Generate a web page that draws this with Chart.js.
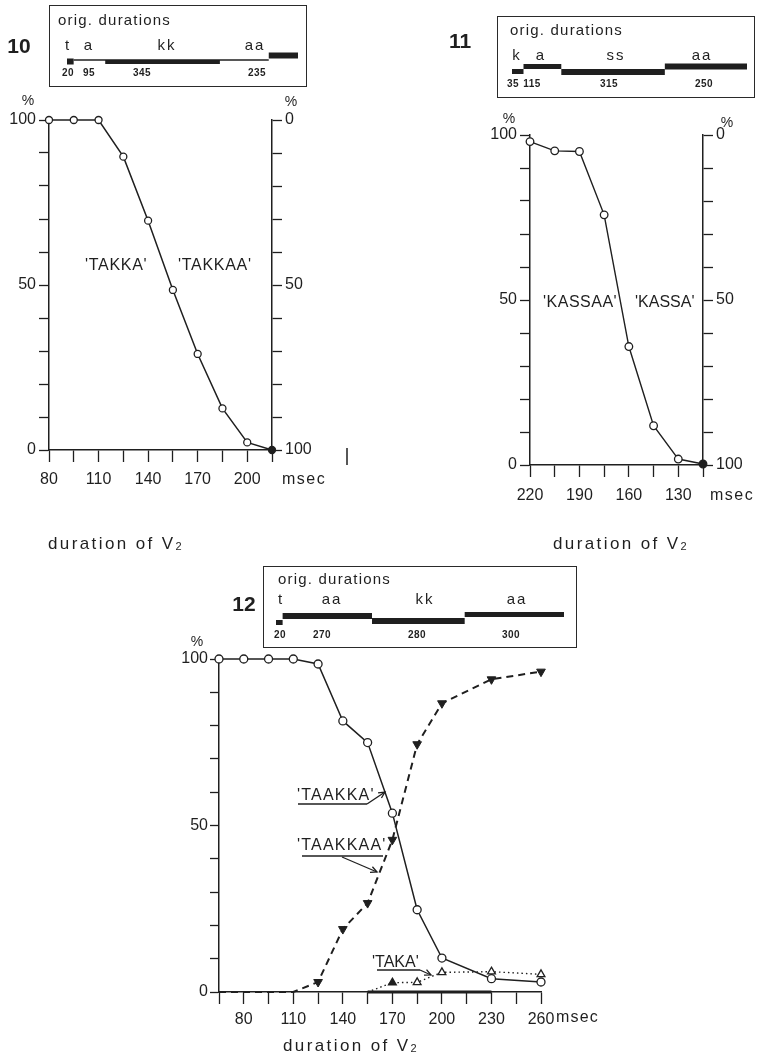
<!DOCTYPE html>
<html><head><meta charset="utf-8">
<script src="https://cdn.jsdelivr.net/npm/chart.js@4.4.1/dist/chart.umd.min.js"></script>
<style>
html,body{margin:0;padding:0;background:#fff;}
body{width:760px;height:1058px;position:relative;overflow:hidden;font-family:"Liberation Sans",Arial,sans-serif;color:#1f1f1f;}
.abs{position:absolute;white-space:nowrap;line-height:1;}
.box{position:absolute;border:1.5px solid #2a2a2a;box-sizing:border-box;}
canvas{position:absolute;display:block;}
sub{font-size:11px;vertical-align:-1px;}
</style></head><body>
<div class="box" style="left:49px;top:5px;width:258px;height:82px"></div>
<div class="box" style="left:497px;top:16px;width:258px;height:82px"></div>
<div class="box" style="left:263px;top:566px;width:314px;height:82px"></div>

<canvas id="c10" width="360" height="410" style="left:0;top:90px"></canvas>
<canvas id="c11" width="280" height="410" style="left:480px;top:100px"></canvas>
<canvas id="c12" width="420" height="410" style="left:170px;top:630px"></canvas>

<canvas id="i10" width="231" height="20" style="left:67px;top:50px"></canvas>
<canvas id="i11" width="235" height="20" style="left:512px;top:60px"></canvas>
<canvas id="i12" width="288" height="25" style="left:276px;top:605px"></canvas>

<svg id="arrows" class="abs" style="left:0;top:0" width="760" height="1058"></svg>

<script>
// ---------------- DATA ----------------
// Fig. 10 : % 'TAKKA' (left axis) vs duration of V2
const dur10 = [80, 95, 110, 125, 140, 155, 170, 185, 200, 215];
const takkaPct = [100, 100, 100, 88.9, 69.5, 48.5, 29.1, 12.6, 2.3, 0];
const xTickLabels10 = [80, 110, 140, 170, 200];

// Fig. 11 : % 'KASSAA' vs duration of V2 (decreasing axis)
const dur11 = [220, 205, 190, 175, 160, 145, 130, 115];
const kassaaPct = [98, 95.2, 95, 75.8, 35.9, 11.9, 1.8, 0.3];
const xTickLabels11 = [220, 190, 160, 130];

// Fig. 12 : three response categories
const dur12 = [65, 80, 95, 110, 125, 140, 155, 170, 185, 200, 230, 260];
const taakkaPct  = [100, 100, 100, 100, 98.5, 81.4, 74.9, 53.7, 24.7, 10.2, 4, 3];
const taakkaaPct = [0, 0, 0, 0, 3.0, 18.9, 26.7, 45.7, 74.4, 86.7, 93.9, 96.2];
const takaPct    = [null, null, null, null, null, null, 0, 2.8, 2.9, 5.9, 6.1, 5.3];
const baselinePct = [null, null, null, null, null, null, 0, 0, 0, 0, 0, null];
const xTickLabels12 = [80, 110, 140, 170, 200, 230, 260];

const yTickLabels = [0, 50, 100];

// original durations (ms) shown in the insets
const orig10Labels = ['t', 'a', 'kk', 'aa'];
const orig10Ms = [20, 95, 345, 235];
const orig11Labels = ['k', 'a', 'ss', 'aa'];
const orig11Ms = [35, 115, 315, 250];
const orig12Labels = ['t', 'aa', 'kk', 'aa'];
const orig12Ms = [20, 270, 280, 300];

// inset schematic segments: start / end (ms) and intensity level
const seg10Start = [0, 20, 115, 607];
const seg10End   = [20, 607, 460, 695];
const seg10Level = [8.5, 10, 8, 14.5];
const seg11Level = [8.5, 13.5, 8, 13.5];
const seg12Level = [7.5, 14, 9, 15.5];

// ---------------- STYLE ----------------
const INK = '#1f1f1f';
Chart.defaults.font.family = "'Liberation Sans', Arial, sans-serif";
Chart.defaults.color = INK;

function yScale(position, reverse, width, tickLen, pad) {
  return {
    type: 'linear', position, min: 0, max: 100, reverse,
    ticks: { stepSize: 10, autoSkip: false, padding: pad, font: { size: 16 }, color: INK,
      callback: v => yTickLabels.includes(v) ? String(v) : '' },
    grid: { drawOnChartArea: false, drawTicks: true, tickLength: tickLen, tickColor: INK, tickWidth: 1.3, color: INK },
    border: { display: true, color: INK, width: 1.5 },
    afterFit: s => { s.width = width; }
  };
}
function xScale(min, max, reverse, tickVals, labels, pad) {
  return {
    type: 'linear', min, max, reverse,
    afterBuildTicks: s => { s.ticks = tickVals.map(v => ({ value: v })); },
    ticks: { autoSkip: false, maxRotation: 0, padding: pad, font: { size: 16 }, color: INK,
      callback: v => labels.includes(v) ? String(v) : '' },
    grid: { drawOnChartArea: false, drawTicks: true, tickLength: 12, tickColor: INK, tickWidth: 1.3, color: INK },
    border: { display: true, color: INK, width: 1.5 },
    afterFit: s => { s.height = 40; }
  };
}
const base = {
  animation: false, responsive: false, events: [],
  plugins: { legend: { display: false }, tooltip: { enabled: false } }
};
const pts = (xs, ys) => xs.map((x, i) => ({ x, y: ys[i] }));

// Fig 10
new Chart(document.getElementById('c10'), {
  type: 'line',
  data: { datasets: [{
    data: pts(dur10, takkaPct), borderColor: INK, borderWidth: 1.5, clip: false,
    pointRadius: 3.5, pointBorderColor: INK, pointBorderWidth: 1.3,
    pointBackgroundColor: c => c.dataIndex === dur10.length - 1 ? INK : '#fff'
  }]},
  options: Object.assign({}, base, {
    layout: { padding: { left: 0, top: 30, right: 38, bottom: 10 } },
    scales: {
      x: xScale(80, 215, false, dur10, xTickLabels10, 8),
      y: yScale('left', false, 49, 10, 3),
      y2: yScale('right', true, 50, 10, 3)
    }
  })
});

// Fig 11
new Chart(document.getElementById('c11'), {
  type: 'line',
  data: { datasets: [{
    data: pts(dur11, kassaaPct), borderColor: INK, borderWidth: 1.4, clip: false,
    pointRadius: 3.8, pointBorderColor: INK, pointBorderWidth: 1.3,
    pointBackgroundColor: c => c.dataIndex === dur11.length - 1 ? INK : '#fff'
  }]},
  options: Object.assign({}, base, {
    layout: { padding: { left: 0, top: 35, right: 12, bottom: 5 } },
    scales: {
      x: xScale(115, 220, true, dur11, xTickLabels11, 9),
      y: yScale('left', false, 50, 10, 3),
      y2: yScale('right', true, 45, 10, 3)
    }
  })
});

// Fig 12
const xTicks12 = [];
for (let v = 65; v <= 260; v += 15) xTicks12.push(v);
new Chart(document.getElementById('c12'), {
  type: 'line',
  data: { datasets: [
    { // 'TAAKKA'
      data: pts(dur12, taakkaPct), borderColor: INK, borderWidth: 1.5, clip: false,
      pointRadius: 4, pointBorderColor: INK, pointBorderWidth: 1.3, pointBackgroundColor: '#fff'
    },
    { // 'TAAKKAA'
      data: pts(dur12, taakkaaPct), borderColor: INK, borderWidth: 2, borderDash: [7, 5], clip: false,
      pointStyle: 'triangle', pointRotation: 180,
      pointRadius: c => (c.raw && c.raw.y > 0) ? 5 : 0,
      pointBorderColor: INK, pointBackgroundColor: INK, pointBorderWidth: 1
    },
    { // 'TAKA'
      data: pts(dur12, takaPct), borderColor: INK, borderWidth: 1.4, borderDash: [1.5, 3], clip: false,
      pointStyle: 'triangle',
      pointRadius: c => (c.raw && c.raw.y > 0) ? 4.5 : 0,
      pointBorderColor: INK, pointBorderWidth: 1.3,
      pointBackgroundColor: c => c.dataIndex === 7 ? INK : '#fff'
    },
    { // zero responses drawn on the baseline
      data: pts(dur12, baselinePct), borderColor: INK, borderWidth: 3, pointRadius: 0, clip: false
    }
  ]},
  options: Object.assign({}, base, {
    layout: { padding: { left: 0, top: 29, right: 49, bottom: 8 } },
    scales: {
      x: xScale(65, 260, false, xTicks12, xTickLabels12, 6),
      y: yScale('left', false, 49, 9, 2)
    }
  })
});

// ---------- insets (orig. durations) ----------
function inset(id, starts, ends, levels, widths, total, h) {
  new Chart(document.getElementById(id), {
    type: 'line',
    data: { datasets: starts.map((s, i) => ({
      data: [{ x: s, y: levels[i] }, { x: ends[i], y: levels[i] }],
      borderColor: INK, borderWidth: widths[i], borderCapStyle: 'butt', pointRadius: 0, clip: false
    }))},
    options: Object.assign({}, base, {
      layout: { padding: 0 },
      scales: {
        x: { type: 'linear', min: 0, max: total, display: false },
        y: { type: 'linear', min: 0, max: h, display: false }
      }
    })
  });
}
function cum(ms) { const s = [], e = []; let t = 0; ms.forEach(m => { s.push(t); t += m; e.push(t); }); return [s, e]; }
inset('i10', seg10Start, seg10End, seg10Level, [6, 1.5, 4, 6], orig10Ms.reduce((a, b) => a + b, 0), 20);
const [s11, e11] = cum(orig11Ms);
inset('i11', s11, e11, seg11Level, [5, 5, 6, 6], e11[e11.length - 1], 20);
const [s12, e12] = cum(orig12Ms);
inset('i12', s12, e12, seg12Level, [5, 6, 6, 5], e12[e12.length - 1], 25);

// ---------- text ----------
function label(html, x, y, o = {}) {
  const d = document.createElement('div');
  d.className = 'abs';
  d.innerHTML = html;
  d.style.left = x + 'px'; d.style.top = y + 'px';
  d.style.fontSize = (o.size || 16) + 'px';
  if (o.bold) d.style.fontWeight = 'bold';
  if (o.ls) d.style.letterSpacing = o.ls + 'px';
  if (o.color) d.style.color = o.color;
  const tx = o.align === 'center' ? '-50%' : (o.align === 'right' ? '-100%' : '0');
  d.style.transform = `translate(${tx},-50%)`;
  document.body.appendChild(d);
}
const V2 = 'duration of V<sub>2</sub>';
// Fig 10
label('10', 19, 45, { size: 21, bold: true, align: 'center' });
label('orig. durations', 58, 19, { size: 15, ls: 1.2 });
[68, 89, 167, 255].forEach((x, i) => label(orig10Labels[i], x, 44, { size: 15, ls: 2, align: 'center' }));
[68, 89, 142, 257].forEach((x, i) => label(String(orig10Ms[i]), x, 73, { size: 10, bold: true, align: 'center', ls: 0.5 }));
label('%', 28, 100, { size: 14, align: 'center' });
label('%', 291, 101, { size: 14, align: 'center' });
label("'TAKKA'", 85, 265, { size: 16, ls: 0.7 });
label("'TAKKAA'", 178, 265, { size: 16, ls: 0.7 });
label('msec', 282, 479, { size: 16, ls: 1.5 });
label(V2, 48, 543, { size: 17, ls: 2.4 });
// Fig 11
label('11', 460, 40, { size: 21, bold: true, align: 'center' });
label('orig. durations', 510, 29, { size: 15, ls: 1.2 });
[517, 541, 616, 702].forEach((x, i) => label(orig11Labels[i], x, 54, { size: 15, ls: 2, align: 'center' }));
[513, 532, 609, 704].forEach((x, i) => label(String(orig11Ms[i]), x, 84, { size: 10, bold: true, align: 'center', ls: 0.5 }));
label('%', 509, 118, { size: 14, align: 'center' });
label('%', 727, 122, { size: 14, align: 'center' });
label("'KASSAA'", 543, 302, { size: 16, ls: 0.5 });
label("'KASSA'", 635, 302, { size: 16 });
label('msec', 710, 495, { size: 16, ls: 1.5 });
label(V2, 553, 543, { size: 17, ls: 2.4 });
// Fig 12
label('12', 244, 603, { size: 21, bold: true, align: 'center' });
label('orig. durations', 278, 578, { size: 15, ls: 1.2 });
[281, 332, 425, 517].forEach((x, i) => label(orig12Labels[i], x, 598, { size: 15, ls: 2, align: 'center' }));
[280, 322, 417, 511].forEach((x, i) => label(String(orig12Ms[i]), x, 635, { size: 10, bold: true, align: 'center', ls: 0.5 }));
label('%', 197, 641, { size: 14, align: 'center' });
label("'TAAKKA'", 297, 795, { size: 16, ls: 1.2 });
label("'TAAKKAA'", 297, 845, { size: 16, ls: 1.2 });
label("'TAKA'", 372, 962, { size: 16 });
label('msec', 556, 1017, { size: 16, ls: 1.2 });
label(V2, 283, 1045, { size: 17, ls: 2.4 });

// ---------- annotation arrows (fig 12) ----------
const svg = document.getElementById('arrows');
function path(d, w) {
  const p = document.createElementNS('http://www.w3.org/2000/svg', 'path');
  p.setAttribute('d', d); p.setAttribute('stroke', INK); p.setAttribute('stroke-width', w || 1.3);
  p.setAttribute('fill', 'none'); svg.appendChild(p);
}
function arrow(x1, y1, x2, y2) {
  path(`M${x1} ${y1} L${x2} ${y2}`);
  const a = Math.atan2(y2 - y1, x2 - x1), L = 7, s = 0.45;
  path(`M${x2 - L * Math.cos(a - s)} ${y2 - L * Math.sin(a - s)} L${x2} ${y2} L${x2 - L * Math.cos(a + s)} ${y2 - L * Math.sin(a + s)}`);
}
path('M298 804 L367 804', 1.3); arrow(367, 804, 385, 792);
path('M302 856 L383 856', 1.3); arrow(342, 857, 377, 872);
path('M377 970 L420 970', 1.3); arrow(420, 970, 431, 975);
// stray mark right of fig 10
path('M347 448 L347 465', 1.5);
</script>
</body></html>
